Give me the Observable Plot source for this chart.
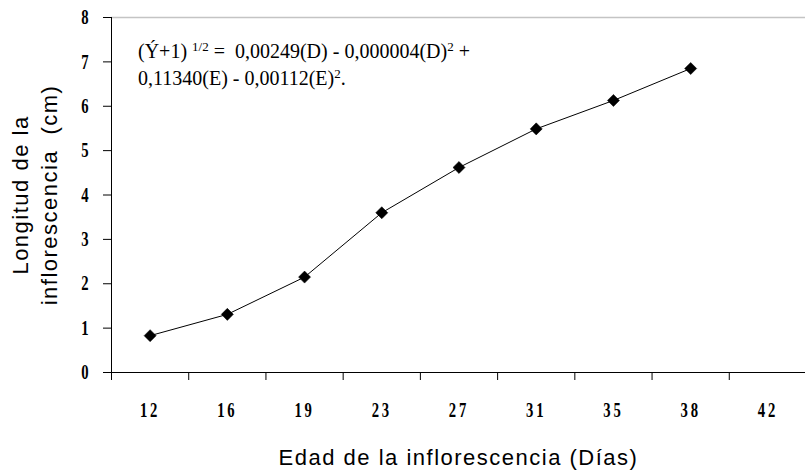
<!DOCTYPE html>
<html>
<head>
<meta charset="utf-8">
<script src="https://cdn.jsdelivr.net/npm/d3@7"></script>
<script src="https://cdn.jsdelivr.net/npm/@observablehq/plot@0.6"></script>
<style>
  html, body { margin: 0; padding: 0; background: #fff; }
  #chart svg { display: block; }
</style>
</head>
<body>
<div id="chart"></div>
<script>
// Data
const categories = ["12", "16", "19", "23", "27", "31", "35", "38", "42"];
const values = [0.83, 1.31, 2.15, 3.6, 4.62, 5.49, 6.13, 6.85];
const yTicks = [0, 1, 2, 3, 4, 5, 6, 7, 8];
const xTitle = "Edad de la inflorescencia (Días)";
const yTitle = "Longitud de la\ninflorescencia  (cm)";

const points = values.map((v, i) => ({pos: i + 0.5, value: v, day: categories[i]}));
const boundaries = d3.range(categories.length + 1);
const centers = categories.map((c, i) => i + 0.5);

const serif = "'Liberation Serif', 'Times New Roman', serif";
const sans = "'Liberation Sans', Arial, sans-serif";

const plot = Plot.plot({
  width: 805,
  height: 472,
  marginLeft: 111,
  marginRight: 0,
  marginTop: 17,
  marginBottom: 100,
  style: {background: "#fff", color: "#000"},
  x: {type: "linear", domain: [0, categories.length], range: [111, 806]},
  y: {domain: [0, 8], range: [372, 17]},
  marks: [
    Plot.ruleY([8], {stroke: "#c4c4c4", strokeWidth: 1.5}),
    Plot.ruleY([0], {stroke: "#000", strokeWidth: 1}),
    Plot.ruleX([0], {stroke: "#000", strokeWidth: 1}),
    Plot.axisY({
      ticks: yTicks, tickSize: 8, tickPadding: 15, label: null,
      fontFamily: serif, fontSize: 21, fontWeight: "bold"
    }),
    Plot.axisX({
      ticks: boundaries, tickSize: 8, tickFormat: () => "", label: null
    }),
    Plot.axisX({
      ticks: centers, tickSize: 0, tickPadding: 30, label: null,
      tickFormat: (d) => categories[Math.floor(d)],
      fontFamily: serif, fontSize: 21, fontWeight: "bold"
    }),
    Plot.line(points, {x: "pos", y: "value", stroke: "#000", strokeWidth: 1}),
    Plot.dot(points, {x: "pos", y: "value", symbol: "square", rotate: 45, r: 4.8, fill: "#000", stroke: "#000", strokeWidth: 0.5}),
    Plot.text([xTitle], {
      frameAnchor: "bottom", lineAnchor: "bottom", dy: 92,
      fontFamily: sans, fontSize: 22, fill: "#000"
    }),
    Plot.text([yTitle], {
      frameAnchor: "left", rotate: -90, textAnchor: "middle", lineAnchor: "middle",
      lineHeight: 1.36, dx: -78.6,
      fontFamily: sans, fontSize: 22, fill: "#000"
    })
  ]
});

document.getElementById("chart").appendChild(plot);

const svg = d3.select(plot);
// Letter spacing on the axis titles
svg.selectAll("text").filter(function () {
  const t = this.textContent;
  return t === xTitle || t.startsWith("Longitud") || t.startsWith("inflorescencia");
}).style("letter-spacing", "1.5px");

// Condensed look for the tick labels (narrow bold serif digits)
svg.selectAll("g[aria-label='y-axis tick label'] text, g[aria-label='x-axis tick label'] text").each(function () {
  const el = d3.select(this);
  const tr = el.attr("transform") || "";
  el.attr("transform", tr + " scale(0.7,1)");
});
svg.selectAll("g[aria-label='x-axis tick label'] text").style("letter-spacing", "4px");

// Regression equation annotation
const eq = svg.append("g")
  .attr("font-family", serif)
  .attr("font-size", 20)
  .attr("text-anchor", "start")
  .attr("fill", "#000");
const l1 = eq.append("text").attr("x", 138).attr("y", 58);
l1.append("tspan").text("(Ý+1) ");
l1.append("tspan").attr("font-size", 13).attr("dy", -7).text("1/2");
l1.append("tspan").attr("dy", 7).text(" =  0,00249(D) - 0,000004(D)");
l1.append("tspan").attr("font-size", 13).attr("dy", -7).text("2");
l1.append("tspan").attr("dy", 7).text(" +");
const l2 = eq.append("text").attr("x", 138).attr("y", 85);
l2.append("tspan").text("0,11340(E) - 0,00112(E)");
l2.append("tspan").attr("font-size", 13).attr("dy", -7).text("2");
l2.append("tspan").attr("dy", 7).text(".");
</script>
</body>
</html>
